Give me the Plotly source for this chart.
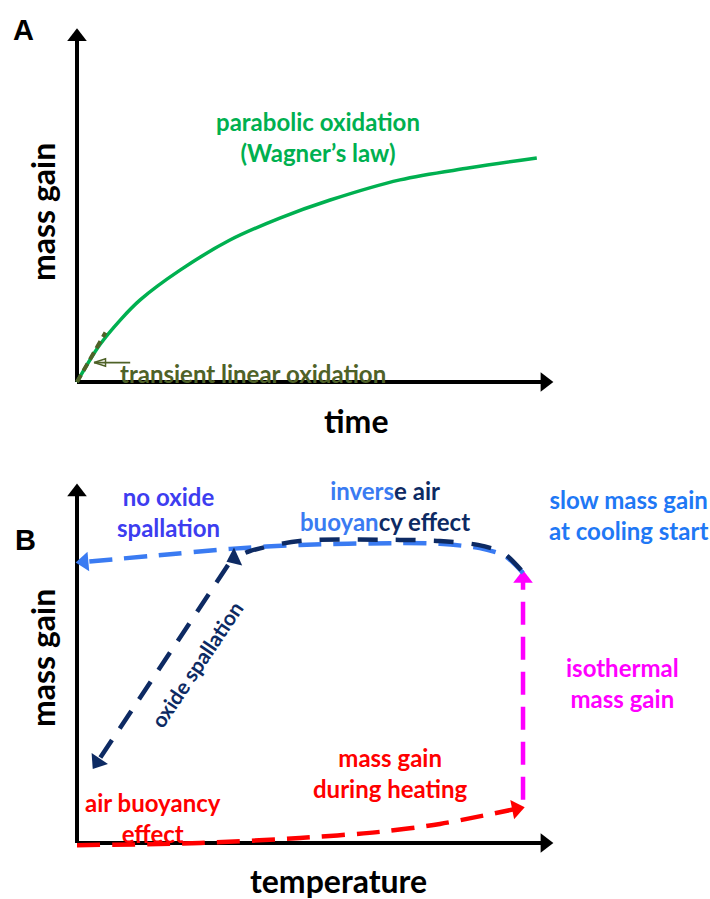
"""Schematic of oxidation mass gain: (A) isothermal, (B) thermal cycle."""

import plotly.graph_objects as go

# -- Data (normalised schematic units) ----------------------------------------

# Panel A: time vs mass gain
parabolic_t = [0, 0.048, 0.091, 0.133, 0.217, 0.322, 0.427, 0.533, 0.680, 0.827, 0.968]
parabolic_m = [0, 0.105, 0.175, 0.232, 0.316, 0.401, 0.463, 0.514, 0.571, 0.605, 0.633]
linear_t = [0, 0.06]
linear_m = [0, 0.14]
pointer_t = [0.112, 0.036]
pointer_m = [0.055, 0.055]

# Panel B: temperature vs mass gain
heating_T = [0, 0.259, 0.469, 0.638, 0.764, 0.925]
heating_m = [-0.006, 0, 0.014, 0.031, 0.053, 0.095]
isothermal_T = [0.939, 0.939]
isothermal_m = [0.12, 0.735]
cooling_T = [0.939, 0.901, 0.848, 0.764, 0.680, 0.469, 0.322, 0.154, 0.015]
cooling_m = [0.750, 0.797, 0.819, 0.831, 0.833, 0.828, 0.817, 0.797, 0.781]
inverse_T = [0.935, 0.897, 0.844, 0.764, 0.680, 0.469, 0.364, 0.331]
inverse_m = [0.758, 0.806, 0.828, 0.839, 0.842, 0.839, 0.811, 0.791]
spall_T = [0.318, 0.043]
spall_m = [0.772, 0.225]

W, H = 710, 899
FONT = "Lato"
GREEN = "#00B050"
OLIVE = "#4F6228"
LIGHT = "#3A7BF2"
NAVY = "#0D2A63"
RED = "#FF0000"
MAGENTA = "#FF00FF"


def px(x):
    return x / W


def py(y):
    return 1 - y / H


def arrow_line(x, y, color, width=4.5, dash="solid", head=17, axes=("x", "y"),
               shape="linear", symbol="triangle-up"):
    sizes = [0] * (len(x) - 1) + [head]
    return go.Scatter(
        x=x, y=y, xaxis=axes[0], yaxis=axes[1],
        mode="lines+markers",
        line=dict(color=color, width=width, dash=dash, shape=shape, smoothing=0.8),
        marker=dict(symbol=symbol, angleref="previous", size=sizes, color=color,
                    opacity=1,
                    line=dict(width=1.5 if symbol.endswith("open") else 0, color=color)),
        hoverinfo="skip", showlegend=False,
    )


fig = go.Figure()

# -- Panel A -------------------------------------------------------------------
fig.add_trace(arrow_line([0, 0], [0, 0.975], "black", width=4))
fig.add_trace(arrow_line([0, 0.985], [0, 0], "black", width=4))
fig.add_trace(go.Scatter(
    x=parabolic_t, y=parabolic_m, mode="lines",
    line=dict(color=GREEN, width=3.5, shape="spline"),
    hoverinfo="skip", showlegend=False,
))
fig.add_trace(go.Scatter(
    x=linear_t, y=linear_m, mode="lines",
    line=dict(color=OLIVE, width=4, dash="8px,5px"),
    hoverinfo="skip", showlegend=False,
))
fig.add_trace(arrow_line(pointer_t, pointer_m, OLIVE, width=1.8, head=12, symbol="arrow-open"))

# -- Panel B -------------------------------------------------------------------
axB = ("x2", "y2")
fig.add_trace(arrow_line([0, 0], [0, 0.975], "black", width=4, axes=axB))
fig.add_trace(arrow_line([0, 0.985], [0, 0], "black", width=4, axes=axB))
fig.add_trace(arrow_line(heating_T, heating_m, RED, dash="23px,12px", axes=axB, shape="spline"))
fig.add_trace(arrow_line(isothermal_T, isothermal_m, MAGENTA, dash="23px,12px", axes=axB))
fig.add_trace(arrow_line(cooling_T, cooling_m, LIGHT, dash="23px,12px", axes=axB, shape="spline"))
fig.add_trace(arrow_line(inverse_T, inverse_m, NAVY, dash="20px,18px", axes=axB, shape="spline"))
fig.add_trace(arrow_line(spall_T, spall_m, NAVY, dash="21px,14px", axes=axB))


# -- Text ----------------------------------------------------------------------
def label(text, x, y, size=24, color="black", angle=0, family=FONT):
    fig.add_annotation(
        text=text, x=px(x), y=py(y), xref="paper", yref="paper",
        xanchor="center", yanchor="middle",
        showarrow=False, textangle=angle, align="center",
        font=dict(family=family, size=size, color=color, weight="bold"),
    )


label("A", 24, 30, size=29, family="Liberation Sans")
label("B", 25, 540, size=29, family="Liberation Sans")
label("mass gain", 42, 212, size=32, angle=-90)
label("time", 356, 420, size=32)
label("mass gain", 42, 658, size=32, angle=-90)
label("temperature", 338, 880, size=32)

label("parabolic oxidation<br>(Wagner’s law)", 318, 137, color=GREEN)
label("transient linear oxidation", 253, 373, color=OLIVE)

label("no oxide<br>spallation", 168, 512, color="#3D3DF0")
label(
    f"<span style='color:{LIGHT}'>invers</span>e air<br>"
    f"<span style='color:{LIGHT}'>buoyan</span>cy effect",
    385, 506, color=NAVY,
)
label("slow mass gain<br>at cooling start", 628, 515, color="#1F78F5")
label("isothermal<br>mass gain", 622, 683, color=MAGENTA)
label("mass gain<br>during heating", 390, 773, color=RED)
label("air buoyancy<br>effect", 153, 818, color=RED)
label("oxide spallation", 196, 664, size=21, color=NAVY, angle=-56)

# -- Layout --------------------------------------------------------------------
hidden = dict(visible=False, showgrid=False, zeroline=False, fixedrange=True)
fig.update_layout(
    width=W, height=H,
    margin=dict(l=0, r=0, t=0, b=0),
    paper_bgcolor="white", plot_bgcolor="white",
    xaxis=dict(domain=[0, 1], range=[-77 / 475, 633 / 475], **hidden),
    yaxis=dict(domain=[0.5, 1], range=[-67.5 / 354, 382 / 354], **hidden),
    xaxis2=dict(domain=[0, 1], range=[-77 / 475, 633 / 475], anchor="y2", **hidden),
    yaxis2=dict(domain=[0, 0.5], range=[-56 / 360, 393.5 / 360], anchor="x2", **hidden),
)

fig.write_html(
    "out.html",
    config={"displayModeBar": False},
    post_script="document.body.style.margin='0px';",
)
